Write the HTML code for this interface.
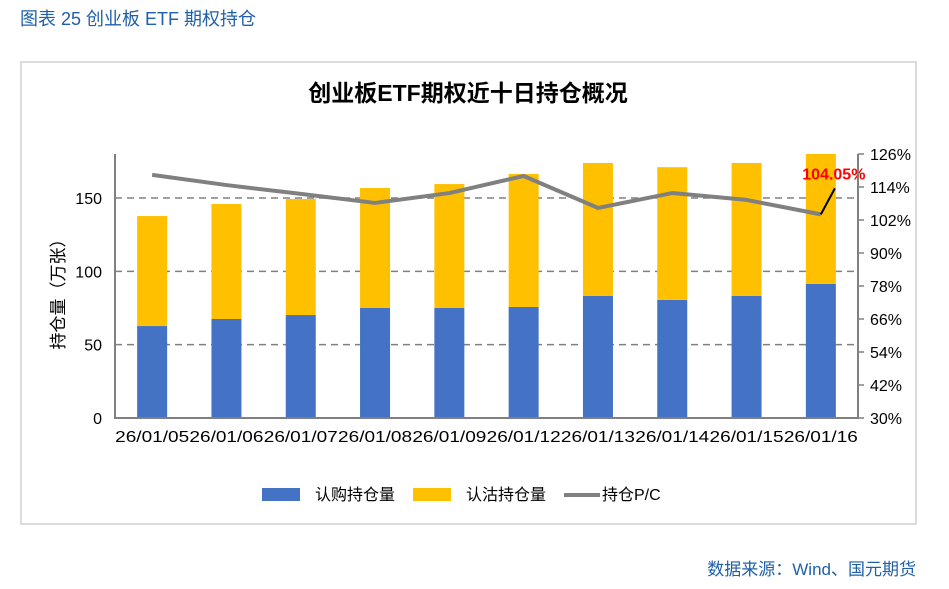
<!DOCTYPE html>
<html><head><meta charset="utf-8"><style>
body{margin:0;background:#fff;width:949px;height:584px;overflow:hidden;font-family:"Liberation Sans","Noto Sans CJK SC",sans-serif;}
</style></head><body>
<svg width="949" height="584" xmlns="http://www.w3.org/2000/svg" style="font-family:'Liberation Sans','Noto Sans CJK SC',sans-serif">
<text x="20" y="25" font-size="18" fill="#2060a8">图表 25  创业板 ETF 期权持仓</text>
<rect x="21" y="62" width="895" height="462" fill="#fff" stroke="#dcdcdc" stroke-width="2"/>
<text x="468" y="101" font-size="23" font-weight="bold" text-anchor="middle" fill="#000">创业板ETF期权近十日持仓概况</text>
<g id="grid"></g><g id="bars"></g><g id="line"></g><g id="axes"></g>
<text transform="translate(64,290) rotate(-90)" font-size="17" text-anchor="middle" fill="#000">持仓量（万张）</text>
<g>
<rect x="262" y="488" width="38" height="13" fill="#4472c4"/>
<text x="315" y="500" font-size="16">认购持仓量</text>
<rect x="413" y="488" width="38" height="13" fill="#ffc000"/>
<text x="466" y="500" font-size="16">认沽持仓量</text>
<line x1="564" y1="495" x2="600" y2="495" stroke="#808080" stroke-width="4"/>
<text x="602" y="500" font-size="16">持仓P/C</text>
</g>
<text x="916" y="575" font-size="17" fill="#2060a8" text-anchor="end">数据来源：Wind、国元期货</text>
</svg>
<script>
const categories=["26/01/05","26/01/06","26/01/07","26/01/08","26/01/09","26/01/12","26/01/13","26/01/14","26/01/15","26/01/16"];
const callOI=[62.7,67.5,70.2,75,75,75.7,83.2,80.5,83.2,91.4];
const putOI=[75,78.4,79.1,81.8,84.5,90.7,90.7,90.5,90.7,88.6];
const pcRatio=[118.4,114.7,111.5,108.2,111.8,118,106.4,111.8,109.3,104.05];
const leftTicks=[0,50,100,150];
const rightTicks=[30,42,54,66,78,90,102,114,126];
const NS="http://www.w3.org/2000/svg";
const X0=115,X1=858,Y0=418,YT=154;
const yL=v=>Y0-v*(Y0-YT)/180;
const yR=v=>Y0-(v-30)*(Y0-YT)/96;
const step=(X1-X0)/categories.length;
const xC=i=>X0+step*(i+0.5);
function mk(p,t,a){const e=document.createElementNS(NS,t);for(const k in a)e.setAttribute(k,a[k]);document.getElementById(p).appendChild(e);return e;}
leftTicks.forEach(t=>{
 if(t>0){const g=mk("grid","line",{x1:X0,x2:X1,y1:yL(t),y2:yL(t),stroke:"#808080","stroke-width":1.5,"stroke-dasharray":"7,5"});
 
 }
 const tx=mk("axes","text",{x:102,y:yL(t)+6,"font-size":16,"text-anchor":"end"});tx.textContent=t;
 
 
});
rightTicks.forEach(t=>{
 const l=mk("axes","line",{x1:X1,x2:X1+6,y1:yR(t),y2:yR(t),stroke:"#808080","stroke-width":1.5});
 
 
 const tx=mk("axes","text",{x:870,y:yR(t)+6,"font-size":16});tx.textContent=t+"%";
 
 
});
categories.forEach((c,i)=>{
 const b=mk("bars","rect",{x:xC(i)-15,y:yL(callOI[i]),width:30,height:Y0-yL(callOI[i]),fill:"#4472c4"});
 
 
 const p=mk("bars","rect",{x:xC(i)-15,y:yL(callOI[i]+putOI[i]),width:30,height:yL(callOI[i])-yL(callOI[i]+putOI[i]),fill:"#ffc000"});
 
 
 const tx=mk("axes","text",{x:xC(i)-37,y:442,"font-size":16,textLength:74,lengthAdjust:"spacingAndGlyphs"});tx.textContent=c;
 
 
});
const ln=mk("line","polyline",{points:pcRatio.map((v,i)=>xC(i)+","+yR(v)).join(" "),fill:"none",stroke:"#808080","stroke-width":4,"stroke-linejoin":"round"});


const last=pcRatio.length-1;
const ld=mk("line","line",{x1:xC(last),y1:yR(pcRatio[last]),x2:xC(last)+14,y2:yR(pcRatio[last])-26,stroke:"#000","stroke-width":2});


const lb=mk("line","text",{x:xC(last)+13,y:yR(pcRatio[last])-35,"font-size":16,"font-weight":"bold",fill:"#ff0000","text-anchor":"middle"});
lb.textContent=pcRatio[last].toFixed(2)+"%";


const a1=mk("axes","polyline",{points:`${X0},${YT} ${X0},${Y0} ${X1},${Y0} ${X1},${YT}`,fill:"none",stroke:"#808080","stroke-width":2});


</script>
</body></html>
